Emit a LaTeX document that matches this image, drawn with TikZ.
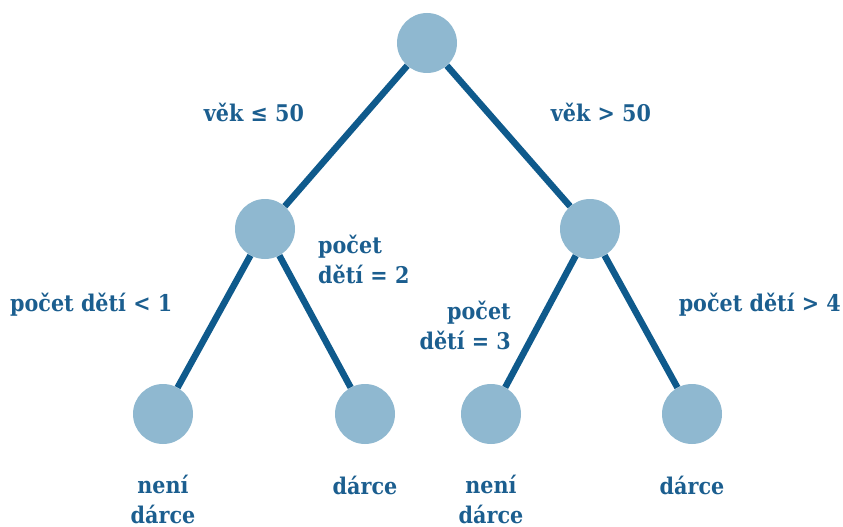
\documentclass[tikz,border=0pt]{standalone}
\usepackage{fontspec}
\setmainfont{DejaVu Serif}[FakeStretch=0.9]
\definecolor{branchblue}{HTML}{0F5A8C}
\definecolor{dotblue}{HTML}{8FB8D0}
\definecolor{labelblue}{HTML}{1B5E8F}
\begin{document}
\begin{tikzpicture}[x=1pt,y=-1pt,
                    dot/.style={circle,fill=dotblue,minimum size=60pt,inner sep=0pt},
                    branch/.style={draw=branchblue,line width=6.5pt},
                    lbl/.style={text=labelblue,inner sep=0pt,anchor=base,
                                font=\fontsize{23}{30}\selectfont\bfseries}]
                      \useasboundingbox (0,0) rectangle (843,527);
                      % tree
                      \node [dot] (root)  at (427,43)  {};
                      \node [dot] (left)  at (265,229) {};
                      \node [dot] (right) at (590,229) {};
                      \node [dot] (ll)    at (163,414) {};
                      \node [dot] (lr)    at (365,414) {};
                      \node [dot] (rl)    at (491,414) {};
                      \node [dot] (rr)    at (692,414) {};
                      \draw [branch] (root) -- (left)
                                     (root) -- (right)
                                     (left) -- (ll)
                                     (left) -- (lr)
                                     (right) -- (rl)
                                     (right) -- (rr);
                      % conditions
                      \node [lbl] (vekle) at (254,121) {věk ≤ 50};
                      \node [lbl] (vekgt) at (601,121) {věk > 50};
                      \node [lbl,anchor=base west,align=left] (deti2) at (318,283) {počet\\dětí = 2};
                      \node [lbl,anchor=base west] (deti1) at (10,311) {počet dětí < 1};
                      \node [lbl,anchor=base east,align=right] (deti3) at (511,349) {počet\\dětí = 3};
                      \node [lbl,anchor=base east] (deti4) at (841,311) {počet dětí > 4};
                      % leaves
                      \node [lbl,align=center] (nll) at (163,523) {není\\dárce};
                      \node [lbl] (nlr) at (365,494) {dárce};
                      \node [lbl,align=center] (nrl) at (491,523) {není\\dárce};
                      \node [lbl] (nrr) at (692,494) {dárce};
                      \end{tikzpicture}
\end{document}
